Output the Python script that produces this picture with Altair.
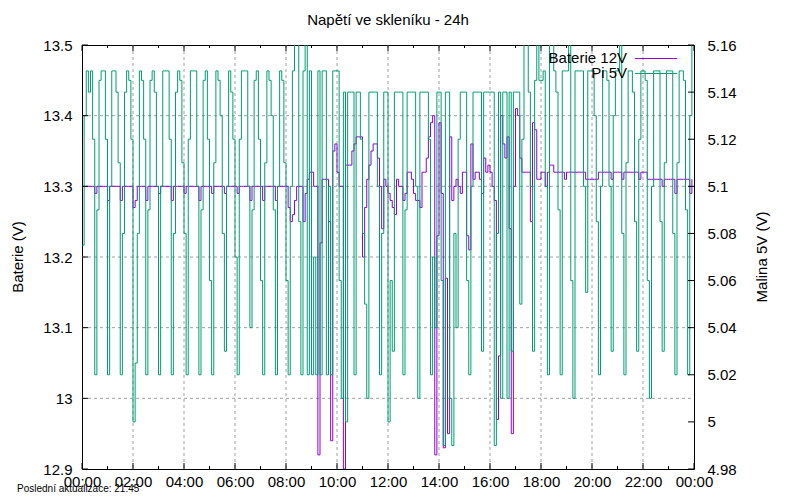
import altair as alt
import pandas as pd

# ---------------- data (5-minute samples, 00:00 .. 23:55) ----------------
STEP_MIN = 5

baterie_12v = [
    13.30, 13.30, 13.30, 13.30, 13.30, 13.30, 13.29, 13.30, 13.30, 13.30, 13.30, 13.30,  # 00
    13.28, 13.30, 13.30, 13.30, 13.30, 13.30, 13.28, 13.30, 13.30, 13.30, 13.30, 13.30,  # 01
    13.27, 13.28, 13.30, 13.30, 13.30, 13.30, 13.28, 13.30, 13.30, 13.30, 13.30, 13.30,  # 02
    13.29, 13.30, 13.30, 13.30, 13.30, 13.30, 13.28, 13.30, 13.30, 13.30, 13.30, 13.30,  # 03
    13.29, 13.30, 13.30, 13.30, 13.30, 13.30, 13.30, 13.28, 13.30, 13.30, 13.30, 13.30,  # 04
    13.30, 13.29, 13.30, 13.30, 13.30, 13.30, 13.30, 13.29, 13.30, 13.30, 13.30, 13.30,  # 05
    13.30, 13.29, 13.30, 13.30, 13.30, 13.30, 13.30, 13.28, 13.30, 13.30, 13.30, 13.30,  # 06
    13.30, 13.28, 13.30, 13.30, 13.30, 13.30, 13.30, 13.28, 13.30, 13.30, 13.30, 13.30,  # 07
    13.30, 13.27, 13.25, 13.26, 13.28, 13.30, 13.30, 13.30, 13.25, 13.29, 13.31, 13.32,  # 08
    13.32, 13.30, 13.30, 12.92, 13.22, 13.31, 13.31, 13.31, 13.25, 12.94, 13.35, 13.36,  # 09
    13.32, 13.30, 13.30, 12.90, 13.33, 13.33, 13.33, 13.35, 13.36, 13.37, 13.37, 13.37,  # 10
    13.20, 13.27, 13.31, 13.33, 13.35, 13.36, 13.36, 13.34, 13.30, 13.24, 13.31, 13.30,  # 11
    13.29, 13.28, 13.27, 13.26, 13.31, 13.30, 13.30, 13.28, 13.29, 13.32, 13.32, 13.31,  # 12
    13.29, 13.28, 13.28, 13.27, 13.32, 13.32, 13.34, 13.37, 13.39, 13.40, 12.92, 13.23,  # 13
    13.39, 13.29, 12.93, 13.17, 12.95, 13.37, 13.28, 13.30, 13.31, 13.30, 13.29, 13.32,  # 14
    13.32, 13.23, 13.21, 13.36, 13.31, 13.32, 13.32, 13.31, 13.29, 13.34, 13.32, 13.33,  # 15
    13.32, 13.30, 13.28, 12.97, 13.06, 13.40, 13.36, 13.34, 13.37, 13.24, 12.95, 13.30,  # 16
    13.41, 13.40, 13.34, 13.32, 13.32, 13.32, 13.32, 13.25, 13.39, 13.38, 13.31, 13.31,  # 17
    13.32, 13.32, 13.30, 13.32, 13.33, 13.33, 13.32, 13.32, 13.32, 13.32, 13.32, 13.31,  # 18
    13.32, 13.32, 13.32, 13.32, 13.32, 13.32, 13.32, 13.32, 13.32, 13.31, 13.31, 13.31,  # 19
    13.31, 13.31, 13.31, 13.32, 13.32, 13.32, 13.32, 13.32, 13.32, 13.31, 13.32, 13.32,  # 20
    13.32, 13.32, 13.31, 13.32, 13.32, 13.32, 13.32, 13.32, 13.32, 13.32, 13.31, 13.32,  # 21
    13.32, 13.32, 13.31, 13.31, 13.31, 13.31, 13.31, 13.31, 13.31, 13.30, 13.31, 13.31,  # 22
    13.31, 13.31, 13.31, 13.29, 13.31, 13.31, 13.31, 13.31, 13.31, 13.31, 13.29, 13.31,  # 23
]

pi_5v = [
    5.075, 5.13, 5.149, 5.14, 5.149, 5.12, 5.02, 5.09, 5.145, 5.149, 5.149, 5.12,   # 00
    5.02, 5.10, 5.149, 5.149, 5.14, 5.11, 5.02, 5.08, 5.14, 5.149, 5.145, 5.12,     # 01
    5.00, 5.025, 5.08, 5.149, 5.145, 5.12, 5.02, 5.09, 5.145, 5.149, 5.14, 5.10,    # 02
    5.02, 5.10, 5.149, 5.149, 5.149, 5.12, 5.02, 5.08, 5.14, 5.149, 5.145, 5.11,    # 03
    5.08, 5.02, 5.12, 5.149, 5.149, 5.149, 5.10, 5.02, 5.09, 5.145, 5.149, 5.12,    # 04
    5.06, 5.02, 5.11, 5.149, 5.145, 5.13, 5.08, 5.03, 5.10, 5.149, 5.14, 5.12,      # 05
    5.07, 5.02, 5.12, 5.149, 5.149, 5.149, 5.10, 5.04, 5.09, 5.145, 5.149, 5.12,    # 06
    5.06, 5.02, 5.11, 5.149, 5.145, 5.13, 5.09, 5.02, 5.10, 5.149, 5.145, 5.11,     # 07
    5.06, 5.02, 5.10, 5.149, 5.165, 5.165, 5.085, 5.02, 5.149, 5.165, 5.02, 5.149,  # 08
    5.02, 5.07, 5.02, 5.149, 5.02, 5.149, 5.149, 5.02, 5.10, 5.02, 5.149, 5.149,    # 09
    5.149, 5.06, 5.01, 5.14, 5.00, 5.14, 5.14, 5.14, 5.02, 5.14, 5.14, 5.12,        # 10
    5.08, 5.05, 5.01, 5.14, 5.14, 5.14, 5.14, 5.10, 5.02, 5.08, 5.14, 5.14,         # 11
    5.00, 5.06, 5.03, 5.14, 5.14, 5.14, 5.14, 5.02, 5.09, 5.14, 5.14, 5.14,         # 12
    5.14, 5.10, 5.01, 5.14, 5.14, 5.14, 5.14, 5.12, 5.02, 5.07, 5.04, 5.14,         # 13
    5.14, 5.06, 4.99, 5.14, 5.14, 5.01, 4.99, 5.08, 5.04, 5.12, 5.14, 5.14,         # 14
    5.14, 5.06, 5.02, 5.10, 5.14, 5.14, 5.14, 5.14, 5.03, 5.14, 5.14, 5.14,         # 15
    5.14, 5.14, 4.99, 5.08, 5.14, 5.01, 5.14, 5.14, 5.01, 5.14, 5.03, 5.14,         # 16
    5.14, 5.14, 5.05, 5.12, 5.165, 5.165, 5.14, 5.10, 5.03, 5.145, 5.165, 5.145,    # 17
    5.145, 5.149, 5.10, 5.02, 5.165, 5.165, 5.149, 5.14, 5.09, 5.02, 5.149, 5.149,  # 18
    5.149, 5.165, 5.06, 5.01, 5.149, 5.149, 5.149, 5.149, 5.10, 5.055, 5.149, 5.149,  # 19
    5.149, 5.13, 5.085, 5.02, 5.10, 5.149, 5.149, 5.145, 5.10, 5.03, 5.13, 5.149,   # 20
    5.149, 5.165, 5.08, 5.02, 5.11, 5.149, 5.149, 5.14, 5.085, 5.03, 5.12, 5.149,   # 21
    5.149, 5.145, 5.06, 5.01, 5.10, 5.149, 5.149, 5.149, 5.085, 5.03, 5.11, 5.149,  # 22
    5.149, 5.149, 5.08, 5.02, 5.11, 5.149, 5.149, 5.145, 5.09, 5.02, 5.13, 5.165,   # 23
]

HOUR_LABELS = [0, 2, 4, 6, 8, 10, 12, 14, 16, 18, 20, 22, 24]
MINOR_HOURS = [1, 3, 5, 7, 9, 11, 13, 15, 17, 19, 21, 23]
GRID_HOURS = [2, 4, 6, 8, 10, 12, 14, 16, 18, 20, 22]
LEFT_TICKS = [12.9, 13.0, 13.1, 13.2, 13.3, 13.4, 13.5]
LEFT_GRID = [13.0, 13.1, 13.2, 13.3, 13.4]
RIGHT_TICKS = [4.98, 5.0, 5.02, 5.04, 5.06, 5.08, 5.1, 5.12, 5.14, 5.16]

TITLE = "Napětí ve skleníku - 24h"
LEFT_TITLE = "Baterie (V)"
RIGHT_TITLE = "Malina 5V (V)"
FOOTER = "Poslední aktualizace: 21:45"
LEGEND = ["Baterie 12V", "Pi 5V"]

# ---------------- layout ----------------
W, H = 612, 424
FONT = "Liberation Sans"
PURPLE = "#9400d3"
GREEN = "#009e73"
GRIDC = "#a0a0a0"

df = pd.DataFrame({
    "t": [i * STEP_MIN / 60 for i in range(len(pi_5v))],
    "bat": baterie_12v,
    "pi": pi_5v,
})

xscale = alt.Scale(domain=[0, 24], nice=False, zero=False)
lscale = alt.Scale(domain=[12.9, 13.5], nice=False, zero=False)
rscale = alt.Scale(domain=[4.98, 5.16], nice=False, zero=False)

xaxis = alt.Axis(
    values=HOUR_LABELS, title=None, ticks=False, domain=False, grid=False,
    labelExpr="(datum.value % 24 < 10 ? '0' : '') + (datum.value % 24) + ':00'",
    labelFont=FONT, labelFontSize=15, labelColor="black", labelPadding=5,
    labelFlush=False, labelOverlap=False,
)


def X(field="t"):
    return alt.X(f"{field}:Q", scale=xscale, axis=xaxis)


hours_major = pd.DataFrame({"t": HOUR_LABELS})
hours_minor = pd.DataFrame({"t": MINOR_HOURS})
grid_v = pd.DataFrame({"t": GRID_HOURS})
grid_h = pd.DataFrame({"v": LEFT_GRID})
lt = pd.DataFrame({"v": LEFT_TICKS})
rt = pd.DataFrame({"v": RIGHT_TICKS})
one = pd.DataFrame({"k": [0]})

vgrid = alt.Chart(grid_v).mark_rule(color=GRIDC, strokeWidth=1, strokeDash=[3, 3]).encode(
    x=X(), y=alt.value(0), y2=alt.value(H))
hgrid = alt.Chart(grid_h).mark_rule(color=GRIDC, strokeWidth=1, strokeDash=[3, 3]).encode(
    y=alt.Y("v:Q", scale=lscale, axis=None), x=alt.value(0), x2=alt.value(W))

bat_line = alt.Chart(df).mark_line(color=PURPLE, strokeWidth=1, interpolate="step-after", clip=True).encode(
    x=X(),
    y=alt.Y("bat:Q", scale=lscale, axis=alt.Axis(
        orient="left", values=LEFT_TICKS, format="~g", title=None, ticks=False,
        domain=False, grid=False, labelFont=FONT, labelFontSize=15,
        labelColor="black", labelPadding=10)),
)
pi_line = alt.Chart(df).mark_line(color=GREEN, strokeWidth=1, interpolate="step-after", clip=True).encode(
    x=X(),
    y=alt.Y("pi:Q", scale=rscale, axis=alt.Axis(
        orient="right", values=RIGHT_TICKS, format="~g", title=None, ticks=False,
        domain=False, grid=False, labelFont=FONT, labelFontSize=15,
        labelColor="black", labelPadding=13)),
)

tick_b_major = alt.Chart(hours_major).mark_rule(color="black").encode(
    x=X(), y=alt.value(H), y2=alt.value(H - 6))
tick_t_major = alt.Chart(hours_major).mark_rule(color="black").encode(
    x=X(), y=alt.value(0), y2=alt.value(6))
tick_b_minor = alt.Chart(hours_minor).mark_rule(color="black").encode(
    x=X(), y=alt.value(H), y2=alt.value(H - 3))
tick_t_minor = alt.Chart(hours_minor).mark_rule(color="black").encode(
    x=X(), y=alt.value(0), y2=alt.value(3))
tick_l = alt.Chart(lt).mark_rule(color="black").encode(
    y=alt.Y("v:Q", scale=lscale, axis=None), x=alt.value(0), x2=alt.value(6))
tick_r = alt.Chart(rt).mark_rule(color="black").encode(
    y=alt.Y("v:Q", scale=rscale, axis=None), x=alt.value(W), x2=alt.value(W - 6))


def label(text, x, y, size=15, align="center", angle=0, baseline="alphabetic"):
    kw = dict(text=text, font=FONT, fontSize=size, color="black", align=align, baseline=baseline)
    if angle:
        kw["angle"] = angle
    return alt.Chart(one).mark_text(**kw).encode(x=alt.value(x), y=alt.value(y))


title_t = label(TITLE, W / 2, -20)
ltitle = label(LEFT_TITLE, -64, H / 2, angle=270, baseline="middle")
rtitle = label(RIGHT_TITLE, 680, H / 2, angle=270, baseline="middle")
footer = label(FOOTER, -65, 447, size=10, align="left")
leg1 = label(LEGEND[0], 545, 17.5, align="right")
leg2 = label(LEGEND[1], 545, 32.5, align="right")
leg1_line = alt.Chart(one).mark_rule(color=PURPLE, strokeWidth=1).encode(
    x=alt.value(553), x2=alt.value(595), y=alt.value(13.5))
leg2_line = alt.Chart(one).mark_rule(color=GREEN, strokeWidth=1).encode(
    x=alt.value(553), x2=alt.value(595), y=alt.value(28.5))

chart = alt.layer(
    vgrid, hgrid, bat_line, pi_line,
    tick_b_major, tick_t_major, tick_b_minor, tick_t_minor, tick_l, tick_r,
    title_t, ltitle, rtitle, footer, leg1, leg2, leg1_line, leg2_line,
).resolve_scale(y="independent").properties(
    width=W, height=H,
    autosize=alt.AutoSizeParams(type="none"),
    padding={"left": 74, "top": 37, "right": 90, "bottom": 30},
    background="white",
).configure_view(stroke="black", strokeWidth=1)

chart.save("out.html", embed_options={"renderer": "svg", "actions": False})
